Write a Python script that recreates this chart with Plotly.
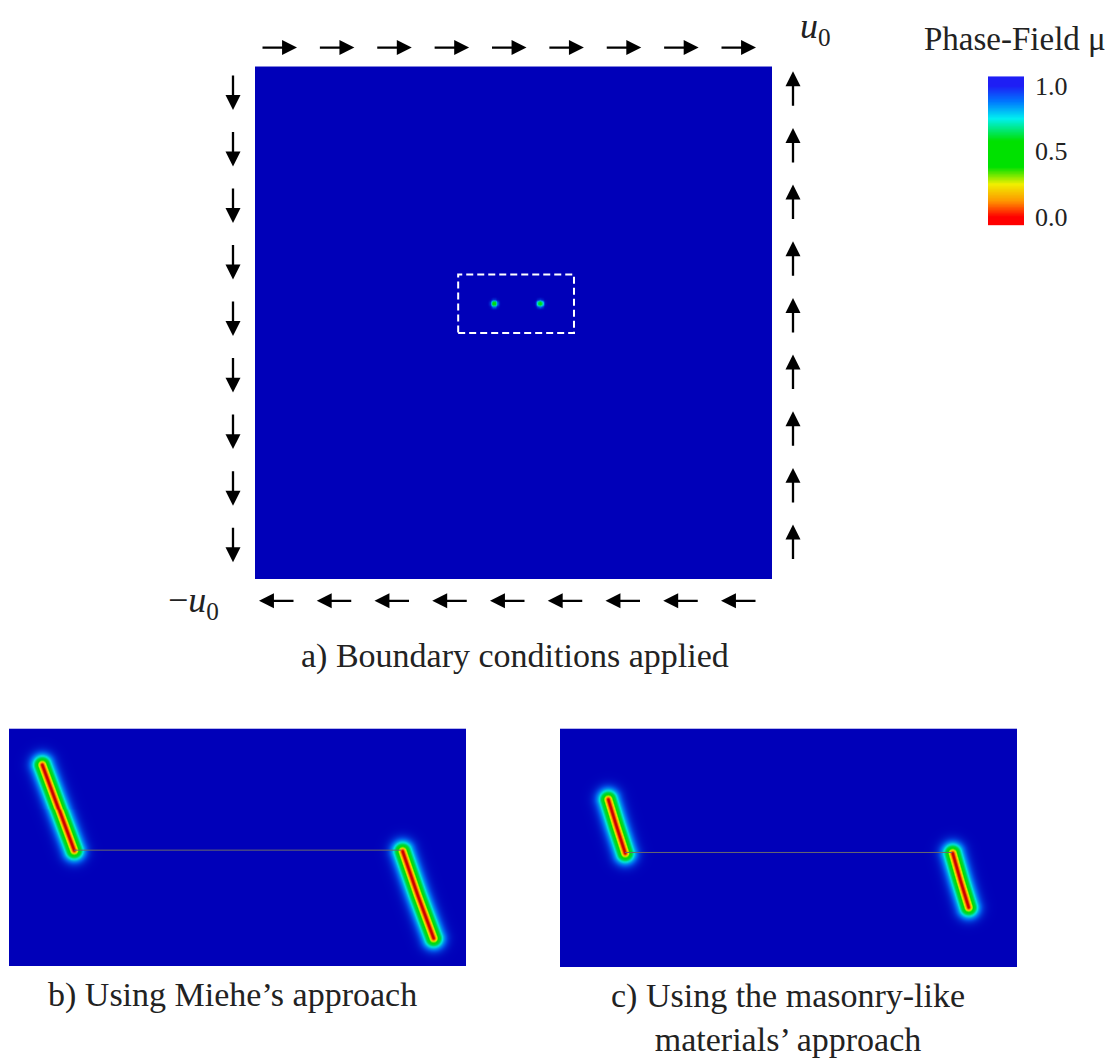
import numpy as np
import plotly.graph_objects as go

W, H = 1117, 1064

# ---------------- data ----------------
# Panel a: full specimen (units 0..100), initial notch tips seen as two dots
notch_tips_a_x = [46.2, 55.1]
notch_tips_a_y = [53.8, 53.8]
zoom_box_x = [39.3, 61.7]
zoom_box_y = [48.0, 59.4]

# Panel b (Miehe): zoomed window, units 0..100 x 0..52.5
miehe_left_x = [7.2, 10.7, 14.2]
miehe_left_y = [44.6, 35.1, 25.6]
miehe_right_x = [86.0, 89.3, 92.8]
miehe_right_y = [25.4, 15.8, 6.3]
notch_b_x = [14.2, 85.8]
notch_b_y = [25.6, 25.6]

# Panel c (masonry-like): zoomed window
mason_left_x = [10.5, 12.3, 14.2]
mason_left_y = [37.0, 31.1, 25.2]
mason_right_x = [85.8, 87.5, 89.3]
mason_right_y = [25.2, 19.2, 13.3]
notch_c_x = [14.2, 85.8]
notch_c_y = [25.2, 25.2]

cbar_tickvals = [0.0, 0.5, 1.0]
cbar_ticktext = ["0.0", "0.5", "1.0"]

# ---------------- helpers ----------------
def seg_dist(X, Y, xs, ys):
    d = np.full(X.shape, np.inf)
    for i in range(len(xs) - 1):
        ax, ay, bx, by = xs[i], ys[i], xs[i + 1], ys[i + 1]
        vx, vy = bx - ax, by - ay
        t = np.clip(((X - ax) * vx + (Y - ay) * vy) / (vx * vx + vy * vy), 0, 1)
        d = np.minimum(d, np.hypot(X - ax - t * vx, Y - ay - t * vy))
    return d

def crack_field(X, Y, paths, w=0.12, l=1.47, p=1.4):
    d = np.full(X.shape, np.inf)
    for xs, ys in paths:
        d = np.minimum(d, seg_dist(X, Y, xs, ys))
    return 1 - np.exp(-(np.maximum(d - w, 0) / l) ** p)

field_cs = [
    [0.0, "rgb(205,0,0)"],
    [0.12, "rgb(255,140,0)"],
    [0.25, "rgb(235,235,0)"],
    [0.40, "rgb(0,220,0)"],
    [0.60, "rgb(0,215,60)"],
    [0.75, "rgb(0,225,225)"],
    [0.90, "rgb(0,90,235)"],
    [1.0, "rgb(0,0,185)"],
]
bar_cs = [
    [0.0, "rgb(255,0,0)"],
    [0.12, "rgb(255,150,0)"],
    [0.25, "rgb(240,240,0)"],
    [0.38, "rgb(0,225,0)"],
    [0.58, "rgb(0,225,0)"],
    [0.75, "rgb(0,240,240)"],
    [0.88, "rgb(0,120,255)"],
    [1.0, "rgb(30,30,245)"],
]

fig = go.Figure()

# ---------------- panel a ----------------
xa = np.linspace(0, 100, 400)
ya = np.linspace(0, 100, 400)
XA, YA = np.meshgrid(xa, ya)
mu_a = np.ones_like(XA)
for tx, ty in zip(notch_tips_a_x, notch_tips_a_y):
    mu_a -= 0.6 * np.exp(-(((XA - tx) ** 2 + (YA - ty) ** 2) / 0.55 ** 2))
fig.add_trace(go.Heatmap(x=xa, y=ya, z=mu_a.astype(np.float32), zmin=0, zmax=1,
                         colorscale=field_cs, showscale=False, zsmooth="best",
                         hoverinfo="skip", xaxis="x", yaxis="y"))
fig.add_shape(type="rect", xref="x", yref="y",
              x0=zoom_box_x[0], x1=zoom_box_x[1], y0=zoom_box_y[0], y1=zoom_box_y[1],
              line=dict(color="white", width=2, dash="7px,4px"))

# ---------------- panels b, c ----------------
xb = np.linspace(0, 100, 457)
yb = np.linspace(0, 52.5, 240)
XB, YB = np.meshgrid(xb, yb)
mu_b = crack_field(XB, YB, [(miehe_left_x, miehe_left_y), (miehe_right_x, miehe_right_y)])
mu_c = crack_field(XB, YB, [(mason_left_x, mason_left_y), (mason_right_x, mason_right_y)])
for mu, ax_, ay_, nx, ny in [(mu_b, "x2", "y2", notch_b_x, notch_b_y),
                             (mu_c, "x3", "y3", notch_c_x, notch_c_y)]:
    fig.add_trace(go.Heatmap(x=xb, y=yb, z=mu.astype(np.float32), zmin=0, zmax=1,
                             colorscale=field_cs, showscale=False, zsmooth="best",
                             hoverinfo="skip", xaxis=ax_, yaxis=ay_))
    fig.add_trace(go.Scatter(x=nx, y=ny, mode="lines", xaxis=ax_, yaxis=ay_,
                             line=dict(color="rgb(105,105,110)", width=1),
                             hoverinfo="skip", showlegend=False))

# ---------------- colorbar ----------------
yc = np.linspace(-0.07, 1.07, 200)
fig.add_trace(go.Heatmap(x=[0, 1], y=yc, z=np.clip(np.repeat(yc[:, None], 2, axis=1), 0, 1),
                         zmin=0, zmax=1, colorscale=bar_cs, showscale=False,
                         zsmooth="best", hoverinfo="skip", xaxis="x4", yaxis="y4"))

def px(v):
    return v / W

def py(v):
    return 1 - v / H

serif = "Liberation Serif"
hidden = dict(visible=False, showgrid=False, zeroline=False, fixedrange=True)
fig.update_layout(
    width=W, height=H, margin=dict(l=0, r=0, t=0, b=0),
    paper_bgcolor="white", plot_bgcolor="white", showlegend=False,
    xaxis=dict(domain=[px(255), px(772)], range=[0, 100], **hidden),
    yaxis=dict(domain=[py(580), py(62)], range=[0, 100], **hidden),
    xaxis2=dict(domain=[px(9), px(466)], range=[0, 100], **hidden),
    yaxis2=dict(domain=[py(971), py(731)], range=[0, 52.5], **hidden),
    xaxis3=dict(domain=[px(560), px(1017)], range=[0, 100], **hidden),
    yaxis3=dict(domain=[py(972), py(731)], range=[0, 52.5], **hidden),
    xaxis4=dict(domain=[px(988), px(1024)], range=[-0.5, 1.5], **hidden),
    yaxis4=dict(domain=[py(223), py(72)], range=[-0.07, 1.07], side="right",
                showgrid=False, zeroline=False, showline=False, ticks="",
                tickvals=cbar_tickvals, ticktext=cbar_ticktext, ticklabelstandoff=10,
                tickfont=dict(family=serif, size=26, color="#222"),
                fixedrange=True, anchor="x4"),
)

# ---------------- boundary arrows ----------------
arrow_style = dict(text="", showarrow=True, arrowhead=2, arrowsize=1.3,
                   arrowwidth=2.3, arrowcolor="black", xref="paper", yref="paper",
                   axref="pixel", ayref="pixel")
n_arrows = 9
top_c = np.linspace(279, 738, n_arrows)
bot_c = np.linspace(277, 739, n_arrows)
left_c = np.linspace(88, 545, n_arrows)
right_c = np.linspace(85, 543, n_arrows)
L = 36
for c in top_c:
    fig.add_annotation(x=px(c + L / 2), y=py(43), ax=-L, ay=0, **arrow_style)
for c in bot_c:
    fig.add_annotation(x=px(c - L / 2), y=py(602), ax=L, ay=0, **arrow_style)
for c in left_c:
    fig.add_annotation(x=px(233), y=py(c + L / 2), ax=0, ay=-L, **arrow_style)
for c in right_c:
    fig.add_annotation(x=px(793), y=py(c - L / 2), ax=0, ay=L, **arrow_style)

def label(x, y, text, size=34):
    fig.add_annotation(x=px(x), y=py(y), text=text, xref="paper", yref="paper",
                       showarrow=False, xanchor="center", yanchor="middle",
                       font=dict(family=serif, size=size, color="#222"))

label(815, 24, "<i>u</i><sub>0</sub>", 36)
label(194, 604, "−<i>u</i><sub>0</sub>", 36)
label(1015, 34, "Phase-Field μ", 33)
label(515, 658, "a) Boundary conditions applied")
label(232, 1000, "b) Using Miehe’s approach")
label(788, 1023, "c) Using the masonry-like<br>materials’ approach")

fig.write_html("out.html")
